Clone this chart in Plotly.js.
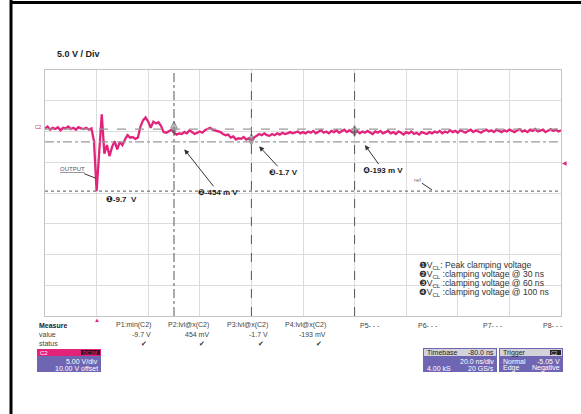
<!DOCTYPE html>
<html>
<head>
<meta charset="utf-8">
<script src="https://cdn.plot.ly/plotly-3.0.1.min.js"></script>
<style>html,body{margin:0;padding:0;background:#fff}#chart{width:581px;height:414px}</style>
</head>
<body>
<div id="chart"></div>
<script>
// ---- data ----
const sampleStartNs = -20;
const sampleStepNs = 1;
const outputVolts = [
  0.5,0.8,0.3,0.6,0.4,0.7,0.2,0.6,0.5,0.8,0.4,0.6,0.3,0.7,0.5,0.4,0.6,0.3,0.5,
  -1.6,-9.7,-3.0,2.8,-3.6,-2.2,-4.0,-2.5,-1.6,-2.9,-1.7,-2.2,-1.3,-0.6,-1.0,-0.9,-1.2,
  -1.0,0.8,1.8,2.3,1.6,0.6,1.6,1.3,1.5,0.9,-0.1,-0.2,0.1,0.3,-0.2,
  -0.5,-0.3,-0.4,-0.1,-0.3,0.2,-0.1,-0.4,-0.2,0.0,
  -0.2,0.2,0.4,0.6,0.3,0.2,0.0,-0.1,-0.4,-0.6,
  -0.5,-1.0,-0.8,-1.3,-1.1,-1.2,-0.9,-1.3,-1.1,-1.4,
  -1.0,-0.7,-0.4,-0.6,-0.3,-0.6,-0.7,-0.4,-0.6,-0.3,
  -0.5,-0.2,-0.4,-0.3,-0.1,-0.3,-0.2,0.0,-0.3,-0.1,
  -0.3,0.0,-0.2,0.1,-0.3,-0.1,0.2,-0.2,0.0,-0.3,
  0.1,-0.1,0.2,-0.2,0.1,0.3,-0.1,0.2,-0.1,-0.2,
  0.1,-0.3,0.0,-0.2,0.1,-0.1,-0.4,0.0,-0.2,0.1,
  -0.3,-0.1,0.1,-0.3,-0.1,-0.4,0.0,-0.2,-0.5,-0.1,
  -0.3,0.0,-0.4,-0.2,-0.5,-0.1,-0.3,-0.4,-0.1,-0.3,
  0.0,-0.2,0.1,-0.3,0.0,-0.2,0.2,-0.1,0.1,-0.2,
  0.2,0.0,-0.2,0.1,0.3,-0.1,0.2,0.0,-0.2,0.1,
  0.3,0.0,0.2,-0.1,0.3,0.1,-0.1,0.2,0.0,0.3,
  0.1,-0.1,0.2,0.4,0.0,0.2,-0.1,0.3,0.1,0.4,
  0.0,0.2,0.3,-0.1,0.2,0.4,0.1,0.3,0.0,0.2
];
const cursorTimesNs = [30, 60, 100];
const cursorDash = ['dashdot', 'dash', 'dash'];
const cursorMarkVolts = [0.6, -1.3, 0.1];
const levelVolts = [0.4, -1.7, -9.7];
const levelDash = ['dash', 'dashdot', 'dot'];
const peakTimeNs = 0;
const triggerLevelV = -5.05;
const measureNames = ['P1:min(C2)', 'P2:lvl@x(C2)', 'P3:lvl@x(C2)', 'P4:lvl@x(C2)', 'P5- - -', 'P6- - -', 'P7- - -', 'P8- - -'];
const measureValues = ['-9.7 V', '454 mV', '-1.7 V', '-193 mV', '', '', '', ''];
const labelTexts = ['❶-9.7  V', '❷-454 m V', '❸-1.7 V', '❹-193 m V'];
const legendTexts = [
  '❶V<sub>CL</sub>: Peak clamping voltage',
  '❷V<sub>CL</sub> :clamping voltage @ 30 ns',
  '❸V<sub>CL</sub> :clamping voltage @ 60 ns',
  '❹V<sub>CL</sub> :clamping voltage @ 100 ns'
];

// ---- layout helpers ----
const L = 45, T = 70, W = 516, H = 246;
const px = x => (x - L) / W;
const py = y => (T + H - y) / H;
const FONT = 'Liberation Sans, Arial, DejaVu Sans, sans-serif';
const PINK = '#e3237a';
const PURPLE = '#6f66b3';

const timeNs = outputVolts.map((_, i) => sampleStartNs + i * sampleStepNs);

const traces = [
  {x: timeNs, y: outputVolts, type: 'scatter', mode: 'lines',
   line: {color: PINK, width: 2.3}, hoverinfo: 'skip'},
  {x: cursorTimesNs, y: cursorMarkVolts, type: 'scatter', mode: 'markers',
   marker: {symbol: 'diamond-tall', size: [9, 8, 8], color: 'rgba(140,140,140,0.85)', line: {color: '#666', width: 1}}}
];

const shapes = [];
cursorTimesNs.forEach((t, i) => shapes.push({type: 'line', xref: 'x', yref: 'paper', x0: t, x1: t, y0: 0, y1: 1,
  line: {color: '#555', width: 1, dash: cursorDash[i]}}));
levelVolts.forEach((v, i) => shapes.push({type: 'line', xref: 'paper', yref: 'y', x0: 0, x1: 1, y0: v, y1: v,
  line: {color: i === 2 ? '#777' : '#999', width: 1.2, dash: levelDash[i]}}));
// outer frame
shapes.push({type: 'line', xref: 'paper', yref: 'paper', x0: px(11), x1: px(11), y0: py(0), y1: py(414), line: {color: '#000', width: 3}});
shapes.push({type: 'line', xref: 'paper', yref: 'paper', x0: px(10), x1: px(581), y0: py(2.5), y1: py(2.5), line: {color: '#000', width: 3}});
// info boxes
function rect(x0, y0, x1, y1, color) {
  shapes.push({type: 'rect', xref: 'paper', yref: 'paper', x0: px(x0), x1: px(x1), y0: py(y1), y1: py(y0),
    fillcolor: color, line: {width: 0}, layer: 'above'});
}
rect(37, 349, 101, 372, PURPLE);
rect(37, 349, 101, 356, PINK);
rect(81, 350, 100, 355, '#3a1022');
rect(423, 348, 497, 372, PURPLE);
rect(424, 349, 496, 356, '#d2d2da');
rect(499, 348, 563, 372, PURPLE);
rect(500, 349, 562, 356, '#d2d2da');
rect(550, 350, 561, 355, '#222');

const ann = [];
function txt(text, x, y, opt) {
  opt = opt || {};
  ann.push({text: text, xref: 'paper', yref: 'paper', x: px(x), y: py(y), showarrow: false,
    xanchor: opt.anchor || 'left', yanchor: 'middle',
    font: {family: FONT, size: opt.size || 7, color: opt.color || '#444'}});
}
// text label whose arrow points at a data location
function callout(text, xr, x, v, ax, ay, head, font) {
  ann.push({text: text, xref: xr, yref: 'y', x: x, y: v, ax: ax, ay: ay, showarrow: true,
    arrowhead: head, arrowsize: 1, arrowwidth: 1, arrowcolor: '#333', standoff: 0, startstandoff: 0,
    font: font});
}
txt('<b>5.0 V / Div</b>', 55, 54, {size: 9, color: '#222'});
const labelFont = {family: FONT, size: 8, color: '#222'};
txt('<b>' + labelTexts[0] + '</b>', 104, 199, {size: 8, color: '#222'});
callout('<b>' + labelTexts[1] + '</b>', 'x', cursorTimesNs[0] + 4, -2.9, 34, 43, 2, labelFont);
callout('<b>' + labelTexts[2] + '</b>', 'x', cursorTimesNs[1] + 3, -2.4, 24, 26, 2, labelFont);
callout('<b>' + labelTexts[3] + '</b>', 'x', cursorTimesNs[2] + 4, -2.2, 18, 25, 2, labelFont);
callout('<u>OUTPUT</u>', 'x', peakTimeNs - 0.3, -7.6, -23, -9, 0, {family: FONT, size: 6, color: '#555'});
callout('ref', 'paper', px(432), levelVolts[2] + 0.2, -15, -10, 0, {family: FONT, size: 6, color: '#777'});
txt('C2', 33, 127, {size: 5, color: PINK});
legendTexts.forEach((s, i) => txt(s, 417, 265 + i * 9, {size: 8.6, color: '#333'}));
// trigger markers
ann.push({text: '▲', xref: 'x', yref: 'paper', x: peakTimeNs, y: py(320), showarrow: false,
  font: {size: 6, color: PINK}, xanchor: 'center', yanchor: 'middle'});
ann.push({text: '◀', xref: 'paper', yref: 'y', x: px(564), y: triggerLevelV, showarrow: false,
  font: {size: 6, color: PINK}, xanchor: 'center', yanchor: 'middle'});
// measure table
txt('<b>Measure</b>', 37, 325, {size: 7, color: '#222'});
txt('value', 37, 334, {size: 7});
txt('status', 37, 343, {size: 7});
const colRight = [153, 211, 270, 328, 382, 440, 505, 565];
measureNames.forEach((s, i) => {
  txt(s, colRight[i], 325, {anchor: 'right', size: 7});
  if (measureValues[i]) {
    txt(measureValues[i], colRight[i], 334, {anchor: 'right', size: 7});
    txt('✔', colRight[i] - 4, 343, {anchor: 'right', size: 7, color: '#333'});
  }
});
// channel box
txt('C2', 38, 352.5, {size: 6, color: '#fff'});
txt('DC1M', 99, 352.5, {anchor: 'right', size: 5, color: PINK});
txt('5.00 V/div', 100, 361, {anchor: 'right', size: 7, color: '#fff'});
txt('10.00 V offset', 100, 368, {anchor: 'right', size: 7, color: '#fff'});
// timebase box
txt('Timebase', 425, 352.5, {size: 7, color: '#222'});
txt('-80.0 ns', 496, 352.5, {anchor: 'right', size: 7, color: '#222'});
txt('20.0 ns/div', 496, 361, {anchor: 'right', size: 7, color: '#fff'});
txt('4.00 kS', 425, 368, {size: 7, color: '#fff'});
txt('20 GS/s', 496, 368, {anchor: 'right', size: 7, color: '#fff'});
// trigger box
txt('Trigger', 501, 352.5, {size: 7, color: '#222'});
txt('C2', 560, 352.5, {anchor: 'right', size: 5, color: '#ddd'});
txt('Normal', 501, 361, {size: 7, color: '#fff'});
txt('-5.05 V', 562, 361, {anchor: 'right', size: 7, color: '#fff'});
txt('Edge', 501, 368, {size: 7, color: '#fff'});
txt('Negative', 562, 368, {anchor: 'right', size: 7, color: '#fff'});

const layout = {
  width: 581, height: 414,
  margin: {l: L, r: 581 - L - W, t: T, b: 414 - T - H, pad: 0},
  paper_bgcolor: '#fff', plot_bgcolor: '#fff',
  showlegend: false,
  font: {family: FONT},
  xaxis: {range: [-20, 180], dtick: 20, tick0: 0, showgrid: true, gridcolor: '#dcdcdc', gridwidth: 1,
    showticklabels: false, ticks: '', zeroline: false, showline: true, mirror: true, linecolor: '#c4c4c4', linewidth: 1},
  yaxis: {range: [-30, 10], dtick: 5, tick0: 0, showgrid: true, gridcolor: '#dcdcdc', gridwidth: 1,
    showticklabels: false, ticks: '', zeroline: false, showline: true, mirror: true, linecolor: '#c4c4c4', linewidth: 1},
  shapes: shapes,
  annotations: ann
};
Plotly.newPlot('chart', traces, layout, {staticPlot: true, displayModeBar: false});
</script>
</body>
</html>
